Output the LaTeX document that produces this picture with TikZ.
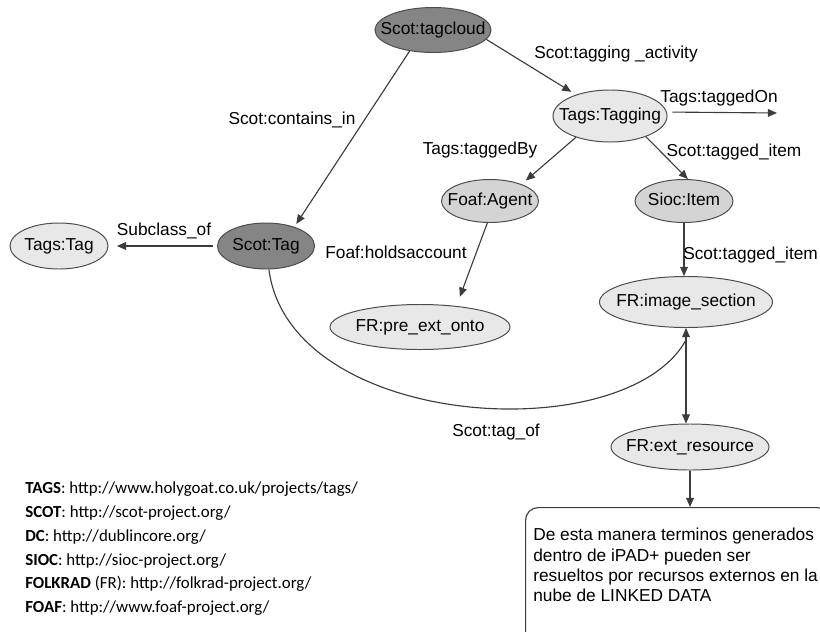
\documentclass[tikz,border=0pt]{standalone}
\usepackage{fontspec}
\setmainfont{Liberation Sans}
\newfontfamily\legendfont{Carlito}
\usetikzlibrary{shapes.geometric, arrows.meta}

\definecolor{darknode}{HTML}{858585}
\definecolor{midnode}{HTML}{D4D4D4}
\definecolor{lightnode}{HTML}{E8E8E8}
\definecolor{edgegray}{HTML}{3C3C3C}

% text that does not widen the ellipse
\newcommand{\ctext}[1]{\makebox[0pt]{#1}}

\begin{document}
\begin{tikzpicture}[x=0.025cm, y=-0.025cm,
    >={Triangle[length=6.5pt,width=5.5pt]},
    classnode/.style={ellipse, draw=black!70, line width=0.7pt, inner sep=0pt,
        text height=8.8pt, text depth=2.6pt, font=\fontsize{12.3}{14}\selectfont},
    darkclass/.style={classnode, fill=darknode},
    midclass/.style={classnode, fill=midnode},
    lightclass/.style={classnode, fill=lightnode},
    relarrow/.style={draw=edgegray, line width=0.8pt, ->},
    rellabel/.style={inner sep=0pt, text height=8.8pt, text depth=2.6pt,
        font=\fontsize{12.3}{14}\selectfont},
    legend/.style={inner sep=0pt, font=\legendfont\fontsize{12}{14}\selectfont}]

    \useasboundingbox (0,0) rectangle (820,631);

    % Draw the classes
    \node[darkclass, minimum width=2.9cm, minimum height=1.125cm] (tagcloud) at (433,30) {\ctext{Scot:tagcloud}};
    \node[lightclass, minimum width=2.85cm, minimum height=1.3cm] (tagging) at (610,116) {\ctext{Tags:Tagging}};
    \node[midclass, minimum width=2.425cm, minimum height=1.075cm] (agent) at (490,201) {\ctext{Foaf:Agent}};
    \node[midclass, minimum width=2.45cm, minimum height=1.075cm] (item) at (684,201) {\ctext{Sioc:Item}};
    \node[darkclass, minimum width=2.425cm, minimum height=1.15cm] (scottag) at (266,246) {\ctext{Scot:Tag}};
    \node[lightclass, minimum width=2.45cm, minimum height=1.15cm] (tagstag) at (59,246) {\ctext{Tags:Tag}};
    \node[lightclass, minimum width=4.5cm, minimum height=1.125cm] (preext) at (420,327) {\ctext{FR:pre\_ext\_onto}};
    \node[lightclass, minimum width=4.325cm, minimum height=1.275cm] (imgsec) at (686,302) {\ctext{FR:image\_section}};
    \node[lightclass, minimum width=3.95cm, minimum height=1.15cm] (extres) at (690,447) {\ctext{FR:ext\_resource}};

    % Draw the note box
    \node[draw=edgegray, line width=0.8pt, rounded corners=9pt, anchor=north west,
        minimum width=7.6cm, minimum height=3.5cm, inner sep=0pt] (note) at (525,507) {};
    \node[anchor=north west, align=left, inner sep=0pt, font=\fontsize{12.3}{14.4}\selectfont] (notetext) at (533,528)
        {De esta manera terminos generados\\dentro de iPAD+ pueden ser\\resueltos por recursos externos en la\\nube de LINKED DATA};

    % Draw the relations
    \draw[relarrow, shorten >=3.8pt] (tagcloud.-10) -- (tagging.148);
    \draw[relarrow, shorten >=2.5pt] (tagcloud.-138) -- (scottag.34);
    \draw[relarrow, shorten <=3pt, shorten >=6pt] (scottag.west) -- (tagstag.east);
    \coordinate (ontarget) at (777,113);
    \draw[relarrow, shorten <=4pt] (tagging.4) -- (ontarget);
    \draw[relarrow, shorten >=4pt] (tagging.-148) -- (agent.28);
    \draw[relarrow] (tagging.-30) -- (item.80);
    \draw[relarrow, shorten >=7pt] (agent.-97) -- (preext.30);
    \draw[relarrow] (item.south) -- (item.south |- imgsec.north);
    \draw[relarrow, <->] (imgsec.south) -- (imgsec.south |- extres.north);
    \draw[relarrow] (extres.south) -- (extres.south |- note.north);

    % Scot:tag_of runs round to the image section
    \coordinate (tagofend) at (686,340);
    \draw[edgegray, line width=0.8pt] (scottag.-83) .. controls (290,430) and (625,450) .. (tagofend);

    % Relation labels
    \node[rellabel] (lblactivity) at (616,54) {Scot:tagging \_activity};
    \node[rellabel] (lblcontains) at (292,120) {Scot:contains\_in};
    \node[rellabel] (lblsubclass) at (164,231) {Subclass\_of};
    \node[rellabel] (lbltaggedon) at (719,98) {Tags:taggedOn};
    \node[rellabel] (lbltaggedby) at (480,150) {Tags:taggedBy};
    \node[rellabel] (lbltaggeditem) at (734,152) {Scot:tagged\_item};
    \node[rellabel] (lblholds) at (396,254) {Foaf:holdsaccount};
    \node[rellabel, anchor=west] (lblsection) at (683,255) {Scot:tagged\_item};
    \node[rellabel] (lbltagof) at (496,432) {Scot:tag\_of};

    % Namespaces
    \node[legend, anchor=base west] (legtags) at (25,493) {\textbf{TAGS}: http://www.holygoat.co.uk/projects/tags/};
    \node[legend, anchor=base west] (legscot) at (25,517) {\textbf{SCOT}: http://scot-project.org/};
    \node[legend, anchor=base west] (legdc) at (25,541) {\textbf{DC}: http://dublincore.org/};
    \node[legend, anchor=base west] (legsioc) at (25,565) {\textbf{SIOC}: http://sioc-project.org/};
    \node[legend, anchor=base west] (legfolkrad) at (25,588) {\textbf{FOLKRAD} (FR): http://folkrad-project.org/};
    \node[legend, anchor=base west] (legfoaf) at (25,612) {\textbf{FOAF}: http://www.foaf-project.org/};

\end{tikzpicture}
\end{document}
